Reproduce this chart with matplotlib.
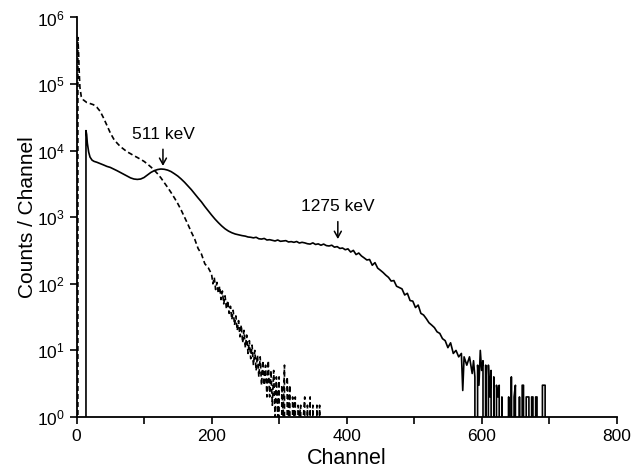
import numpy as np
import matplotlib as mpl
import matplotlib.pyplot as plt
from matplotlib.ticker import FixedLocator, FuncFormatter

mpl.rcParams['font.family'] = ['Liberation Sans', 'DejaVu Sans']
mpl.rcParams['mathtext.default'] = 'regular'

# ===== data =====
solid_ch = [13, 14, 15, 16, 18, 20, 23, 26, 30, 35, 40, 45, 50, 55, 60, 65, 70, 75, 80, 85,
            90, 95, 100, 105, 110, 115, 120, 125, 130, 135, 140, 145, 150, 155, 160, 165, 170,
            175, 180, 185, 190, 195, 200, 205, 210, 215, 220, 225, 230, 235, 240, 245, 250,
            254, 258, 262, 266, 270, 274, 278, 282, 286, 290, 294, 298, 302, 306, 310, 314,
            318, 322, 326, 330, 334, 338, 342, 346, 350, 354, 358, 362, 366, 370, 374, 378,
            382, 386, 390, 394, 398, 402, 406, 410, 414, 418, 422, 426, 430, 434, 438, 442,
            446, 450, 454, 458, 462, 466, 470, 474, 478, 482, 486, 490, 494, 498, 502, 506,
            510, 514, 518, 522, 526, 530, 534, 538, 542, 546, 550, 554, 558, 562, 566, 570,
            572, 574, 578, 582, 586, 588, 590,
            592, 594, 596, 598, 600, 602, 604, 606, 608, 610, 612, 614, 616, 618, 620, 622,
            624, 626, 628, 630, 632, 634, 636, 638, 640, 642, 644, 646, 648, 650, 652, 654,
            656, 658, 660, 662, 664, 666, 668, 670, 672, 674, 676, 678, 680, 682, 684, 686,
            688, 690, 692, 694, 696]
solid_counts = [0, 20000, 17500, 13000, 9500, 8000, 7200, 6900, 6700, 6400, 6100, 5800, 5600,
                5300, 5000, 4700, 4400, 4150, 3900, 3750, 3700, 3750, 3950, 4300, 4700, 5000,
                5200, 5300, 5250, 5100, 4850, 4500, 4150, 3750, 3350, 2950, 2600, 2250, 1950,
                1700, 1450, 1250, 1080, 940, 830, 740, 670, 620, 585, 560, 545, 530, 520,
                505, 500, 490, 500, 475, 470, 480, 455, 460, 450, 440, 455, 435, 440, 445, 425,
                430, 420, 432, 410, 420, 412, 400, 395, 412, 390, 398, 380, 395, 375, 370, 380,
                355, 362, 340, 345, 325, 335, 300, 318, 275, 290, 262, 245, 228, 232, 190, 208,
                172, 160, 148, 135, 125, 110, 112, 92, 88, 84, 68, 72, 56, 55, 44, 48,
                36, 34, 30, 26, 24, 22, 19, 18, 15, 14, 11, 13, 9, 10, 8, 9,
                2.5, 8, 6, 8, 4.5, 7, 4,
                0, 6, 3, 10, 5, 7, 0, 6, 0, 6, 2, 5, 0, 4, 0, 3,
                2, 3, 0, 2, 0, 0, 0, 0, 2, 0, 4, 0, 2, 3, 0, 0,
                2, 0, 3, 3, 0, 2, 2, 2, 0, 2, 2, 0, 2, 2, 0, 0,
                0, 3, 3, 3, 0]

dashed_ch = [1, 2, 3, 4, 5, 7, 10, 15, 20, 25, 30, 35, 40, 45, 50, 55, 60, 65, 70, 75, 80, 85,
             90, 95, 100, 105, 110, 115, 120, 125, 130, 135, 140, 145, 150, 155, 160, 165, 170,
             175, 180, 185, 190, 195,
             200, 202, 204, 206, 208, 210, 212, 214, 216, 218, 220, 222, 224, 226, 228, 230,
             232, 234, 236, 238, 240, 242, 244, 246, 248, 250, 252, 254, 256, 258, 260, 262,
             264, 266, 268, 270, 272, 274, 276, 278, 280, 282, 284, 286, 288, 290, 292, 294,
             296, 298, 300, 302, 304, 306, 308, 310, 312, 314, 316, 318, 320, 322, 324, 326,
             328, 330, 332, 334, 336, 338, 340, 342, 344, 346, 348, 350, 352, 354, 356, 358,
             360, 362]
dashed_counts = [0, 500000, 300000, 150000, 90000, 65000, 58000, 53000, 51000, 49000, 45000,
                 39000, 31000, 24000, 18500, 15000, 13000, 11500, 10500, 9600, 9000, 8400,
                 7900, 7400, 6900, 6300, 5700, 5100, 4500, 3900, 3300, 2800, 2350, 1950, 1600,
                 1280, 1000, 780, 600, 470, 340, 280, 200, 175,
                 140, 100, 125, 82, 105, 72, 92, 58, 78, 50, 66, 42, 56, 36, 46, 29,
                 40, 24, 33, 20, 28, 16, 24, 13, 20, 11, 17, 9, 14, 7.5, 12, 6,
                 10, 5, 8.5, 4, 8, 3, 7, 3, 6, 2, 7, 2, 5, 1.5, 5, 1,
                 4, 1, 4, 0, 3, 1, 6, 0, 4, 1, 3, 0, 2, 1, 2, 0,
                 1.5, 1, 1.5, 0, 1, 2, 0, 1.5, 0, 2, 0, 1.5, 0, 0, 1.5, 0,
                 1.5, 0]

# ===== figure =====
fig = plt.figure(figsize=(6.34, 4.70), dpi=100)
ax = fig.add_axes([0.1207, 0.1128, 0.852, 0.8500])

ax.plot(solid_ch, solid_counts, c='k', lw=1.2)
ax.plot(dashed_ch, dashed_counts, c='k', lw=1.2, ls=(0, (3, 1.8)))

ax.set_yscale('log', nonpositive='clip')
ax.set_xlim(0, 800)
ax.set_ylim(1, 1e6)

ax.spines['top'].set_visible(False)
ax.spines['right'].set_visible(False)
ax.spines['left'].set_linewidth(1.3)
ax.spines['bottom'].set_linewidth(1.3)

ax.xaxis.set_major_locator(FixedLocator([0, 200, 400, 600, 800]))
ax.xaxis.set_minor_locator(FixedLocator([100, 300, 500, 700]))
ax.yaxis.set_major_locator(FixedLocator([1, 10, 100, 1e3, 1e4, 1e5, 1e6]))
ax.yaxis.set_minor_locator(FixedLocator([]))
ax.yaxis.set_major_formatter(FuncFormatter(lambda v, p: r'$10^{%d}$' % round(np.log10(v))))
ax.tick_params(which='both', direction='out', length=5, width=1.2, labelsize=12.5)

ax.set_xlabel('Channel', fontsize=15.5, labelpad=3)
ax.set_ylabel('Counts / Channel', fontsize=15, labelpad=0)

# ===== annotations =====
arrow = dict(arrowstyle='->,head_length=0.45,head_width=0.25', lw=1.1, color='k',
             shrinkA=0, shrinkB=0)
ax.annotate('', xy=(128, 5900), xytext=(128, 10500), arrowprops=arrow)
ax.text(128, 13500, '511 keV', ha='center', va='bottom', fontsize=12.5)
ax.annotate('', xy=(387, 470), xytext=(387, 860), arrowprops=arrow)
ax.text(387, 1120, '1275 keV', ha='center', va='bottom', fontsize=12.5)

plt.savefig('out.png', dpi=100)
